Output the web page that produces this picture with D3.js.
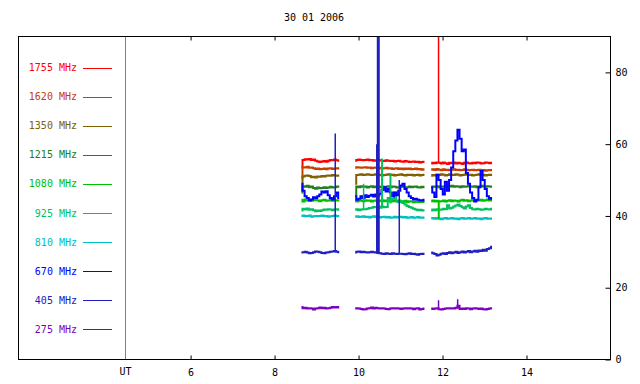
<!DOCTYPE html>
<html>
<head>
<meta charset="utf-8">
<script src="https://cdn.jsdelivr.net/npm/d3@7"></script>
<style>
    body { margin: 0; background: #fff; }
    svg text { font-family: "DejaVu Sans Mono", monospace; font-size: 10px; }
</style>
</head>
<body>
<div id="chart"></div>
<script>
// Radio flux records, 30 01 2006 - three observing blocks, sampled every 0.05 h
const title = "30 01 2006";
const blockStarts = [8.64, 9.92, 11.73]; // UT hours
const sampleStep = 0.05;
const xTicks = [6, 8, 10, 12, 14];
const yTicks = [0, 20, 40, 60, 80];

const channels = ["1755 MHz", "1620 MHz", "1350 MHz", "1215 MHz", "1080 MHz",
                  "925 MHz", "810 MHz", "670 MHz", "405 MHz", "275 MHz"];
const colors = ["#ff0000", "#c84000", "#806000", "#208020", "#00c000",
                "#00c060", "#00c0c0", "#0000ff", "#2020c0", "#8000c0"];

const f1755 = [
    [53.5, 55.6, 55.8, 55.7, 55.9, 55.6, 55.7, 55.4, 55.2, 55.0, 55.2, 55.3, 55.1, 55.4, 55.6, 55.5, 55.7, 55.5, 55.4],
    [55.4, 55.6, 55.7, 55.6, 55.5, 55.6, 55.7, 55.5, 55.6, 55.4, 55.5, 55.6, 55.5, 55.4, 55.3, 55.5, 55.4, 55.3, 55.4, 55.2, 55.3, 55.4, 55.2, 55.1, 55.3, 55.2, 55.0, 55.1, 55.2, 55.0, 55.1, 54.9, 55.0, 55.1],
    [54.6, 54.8, 54.7, 54.9, 54.8, 54.6, 54.9, 54.7, 54.5, 54.8, 54.7, 54.9, 54.6, 54.8, 54.7, 54.5, 54.8, 54.9, 54.7, 54.6, 54.8, 54.7, 54.9, 54.8, 54.6, 54.7, 54.9, 54.8, 54.7, 54.8]
];
const f1620 = [
    [50.5, 53.6, 53.5, 53.7, 53.4, 53.5, 53.3, 53.1, 53.2, 53.0, 53.1, 53.2, 53.0, 53.2, 53.3, 53.1, 53.2, 53.3, 53.2],
    [53.4, 53.6, 53.5, 53.4, 53.5, 53.6, 53.4, 53.5, 53.3, 53.4, 53.5, 53.3, 53.4, 53.2, 53.3, 53.4, 53.2, 53.3, 53.1, 53.2, 53.3, 53.1, 53.2, 53.0, 53.2, 53.1, 53.2, 53.0, 53.1, 53.2, 53.0, 53.1, 52.9, 53.0],
    [52.9, 53.0, 52.8, 53.1, 52.9, 52.7, 53.0, 52.8, 52.9, 52.7, 52.9, 53.0, 52.8, 52.9, 52.7, 52.8, 53.0, 52.9, 52.7, 52.8, 52.9, 52.7, 52.8, 52.9, 52.7, 52.8, 52.6, 52.7, 52.8, 52.7]
];
const f1350 = [
    [47.0, 51.0, 51.2, 51.3, 51.1, 50.8, 50.9, 50.7, 51.0, 50.9, 51.1, 51.0, 51.2, 51.3, 51.2, 51.4, 51.3, 51.2, 51.3],
    [49.0, 51.4, 51.5, 51.6, 51.4, 51.5, 51.6, 51.5, 51.4, 51.5, 51.6, 51.4, 51.5, 51.3, 51.4, 51.5, 51.6, 51.4, 51.5, 51.3, 51.4, 51.5, 51.6, 51.4, 51.3, 51.5, 51.4, 51.5, 51.3, 51.4, 51.5, 51.3, 51.4, 51.5],
    [51.2, 51.4, 51.3, 51.5, 51.4, 51.6, 51.5, 51.3, 51.4, 51.6, 51.5, 51.4, 51.6, 51.5, 51.3, 51.4, 51.5, 51.6, 51.4, 51.5, 51.3, 51.4, 51.5, 51.6, 51.4, 51.5, 51.3, 51.4, 51.5, 51.4]
];
const f1215 = [
    [46.5, 48.3, 48.1, 48.4, 48.0, 48.2, 47.8, 47.6, 47.9, 47.7, 47.8, 48.0, 47.8, 47.9, 48.1, 47.9, 48.0, 48.2, 48.1],
    [45.5, 48.2, 48.0, 48.3, 48.1, 48.2, 47.9, 48.1, 48.3, 48.0, 48.2, 48.1, 48.0, 48.2, 47.9, 48.1, 48.3, 48.0, 48.2, 48.1, 47.9, 48.0, 48.2, 48.1, 47.9, 48.0, 48.2, 48.0, 48.1, 48.2, 48.0, 47.9, 48.1, 48.0],
    [48.0, 48.2, 48.1, 48.3, 48.0, 48.2, 48.1, 48.3, 48.0, 48.2, 48.4, 48.1, 48.3, 48.2, 48.0, 48.3, 48.1, 48.2, 48.4, 48.2, 48.1, 48.3, 48.0, 48.2, 48.4, 48.2, 48.1, 48.3, 48.2, 48.1]
];
const f1080 = [
    [44.5, 44.0, 44.6, 44.3, 44.5, 44.2, 44.4, 44.6, 44.3, 44.1, 44.4, 44.5, 44.2, 44.3, 44.5, 44.2, 44.4, 44.3, 44.4],
    [44.3, 44.0, 44.2, 44.3, 44.1, 44.4, 44.2, 44.3, 44.0, 44.2, 44.3, 44.1, 44.2, 44.4, 44.1, 44.3, 44.2, 44.0, 44.3, 44.1, 44.2, 44.3, 44.1, 44.0, 44.2, 43.9, 44.1, 44.0, 43.8, 44.0, 43.9, 44.1, 43.9, 44.0],
    [44.1, 44.3, 44.0, 44.2, 44.0, 44.1, 44.3, 44.0, 44.2, 44.4, 44.1, 44.3, 44.2, 44.0, 44.3, 44.5, 44.2, 44.4, 44.1, 44.3, 44.5, 44.2, 44.4, 44.3, 44.5, 44.2, 44.4, 44.6, 44.3, 44.5]
];
const f925 = [
    [41.5, 42.0, 41.8, 42.1, 41.7, 41.9, 41.6, 41.3, 41.5, 41.4, 41.6, 41.8, 41.7, 41.9, 41.8, 41.6, 41.8, 41.9, 41.7],
    [41.7, 41.9, 41.6, 41.8, 41.9, 41.9, 42.0, 42.2, 42.3, 42.5, 42.4, 42.6, 42.3, 42.6, 42.4, 42.5, 45.0, 44.2, 44.8, 46.5, 44.0, 43.8, 44.0, 43.6, 43.2, 42.8, 42.5, 42.3, 42.0, 41.8, 41.6, 41.7, 41.5, 41.6],
    [41.5, 41.8, 41.6, 41.9, 41.7, 41.8, 42.0, 41.9, 43.0, 42.1, 42.3, 42.6, 42.9, 43.2, 42.8, 42.4, 42.1, 42.6, 43.0, 42.2, 41.9, 41.8, 42.0, 41.9, 41.7, 41.8, 42.0, 41.9, 41.8, 42.0]
];
const f810 = [
    [40.0, 40.1, 39.9, 40.0, 40.1, 39.8, 39.9, 40.0, 39.9, 40.0, 40.1, 39.9, 40.0, 39.8, 39.9, 40.0, 40.1, 39.9, 40.0],
    [39.8, 39.9, 39.7, 39.8, 39.9, 39.7, 39.8, 39.6, 39.8, 39.9, 39.7, 39.8, 39.6, 39.7, 39.8, 39.6, 39.7, 39.5, 39.6, 39.8, 39.6, 39.7, 39.8, 39.6, 39.7, 39.5, 39.6, 39.7, 39.5, 39.6, 39.7, 39.5, 39.6, 39.5],
    [39.3, 39.4, 39.2, 39.4, 39.3, 39.1, 39.3, 39.4, 39.2, 39.3, 39.4, 39.2, 39.3, 39.1, 39.3, 39.4, 39.2, 39.3, 39.4, 39.2, 39.3, 39.4, 39.2, 39.3, 39.1, 39.3, 39.4, 39.2, 39.3, 39.2]
];
const f670 = [
    [49.0, 47.0, 45.5, 45.0, 44.3, 44.6, 45.2, 45.0, 45.5, 46.0, 46.8, 46.5, 46.9, 45.8, 45.0, 44.6, 45.5, 46.5, 45.0],
    [45.5, 44.5, 44.8, 45.5, 45.0, 45.8, 45.3, 45.6, 45.9, 45.4, 46.0, 45.7, 46.2, 47.2, 48.0, 46.8, 47.5, 46.5, 45.5, 46.5, 45.8, 47.0, 48.5, 49.0, 47.5, 46.5, 45.5, 45.0, 44.6, 44.8, 44.5, 44.4, 44.3, 44.5],
    [48.0, 46.5, 45.3, 51.5, 50.0, 47.5, 46.0, 49.5, 47.0, 50.0, 53.5, 58.0, 61.0, 64.0, 61.5, 58.0, 58.5, 52.0, 49.0, 46.5, 45.0, 44.0, 44.5, 48.0, 52.5, 50.0, 47.5, 45.5, 44.8, 45.0]
];
const f405 = [
    [29.8, 29.9, 30.0, 29.8, 29.6, 29.7, 29.9, 30.1, 30.0, 29.9, 29.7, 29.6, 29.8, 29.9, 30.0, 30.1, 30.2, 30.0, 29.9],
    [29.8, 30.0, 30.1, 29.9, 30.0, 29.9, 29.8, 29.9, 30.0, 29.9, 29.8, 29.7, 29.6, 29.5, 29.4, 29.6, 29.5, 29.4, 29.6, 29.5, 29.4, 29.5, 29.5, 29.4, 29.3, 29.5, 29.6, 29.4, 29.5, 29.3, 29.2, 29.4, 29.5, 29.4],
    [29.8, 29.6, 29.4, 29.0, 29.2, 29.5, 29.6, 29.4, 29.7, 29.9, 29.6, 29.8, 30.0, 29.7, 29.9, 30.1, 29.8, 30.0, 30.2, 29.9, 30.1, 30.3, 30.0, 30.4, 30.2, 30.6, 30.3, 30.8, 31.0, 31.4]
];
const f275 = [
    [14.6, 14.3, 14.4, 14.2, 14.3, 14.2, 13.9, 14.2, 14.3, 14.5, 14.3, 14.4, 14.2, 14.3, 14.4, 14.6, 14.5, 14.6, 14.5],
    [14.2, 14.3, 14.2, 14.1, 13.9, 14.0, 14.2, 14.3, 14.5, 14.2, 14.4, 14.3, 14.2, 14.3, 14.2, 14.1, 14.0, 14.2, 14.3, 14.2, 14.3, 14.2, 14.1, 14.2, 14.3, 14.2, 14.3, 14.2, 14.0, 14.2, 14.3, 13.9, 14.1, 14.2],
    [14.2, 14.1, 14.2, 14.3, 14.0, 13.9, 14.1, 14.2, 14.3, 14.2, 14.3, 14.2, 14.4, 15.0, 14.1, 14.2, 14.1, 14.3, 14.2, 14.0, 14.2, 14.3, 14.2, 14.1, 14.2, 14.0, 13.9, 14.1, 14.2, 14.3]
];
const seriesValues = [f1755, f1620, f1350, f1215, f1080, f925, f810, f670, f405, f275];

// short bursts: [channel index, UT hour, base value, peak value, width px]
const spikes = [
    [8, 9.445, 30.0, 63, 1.5],
    [8, 10.44, 29.8, 60, 2],
    [8, 10.47, 29.8, 95, 3],
    [8, 10.97, 29.4, 50, 1.5],
    [5, 10.12, 41.9, 49, 1.5],
    [5, 10.56, 42.4, 56, 2],
    [5, 10.76, 43.5, 52, 2],
    [0, 11.905, 54.8, 95, 1.5],
    [4, 11.91, 44.1, 39, 2],
    [9, 11.905, 14.1, 16.5, 1.5],
    [9, 12.36, 14.2, 16.8, 1.5]
];

const width = 640, height = 384;
const frame = {left: 18.5, right: 610.5, top: 36.5, bottom: 359.5};
const utLine = 125.5;

const svg = d3.select("#chart").append("svg")
    .attr("width", width)
    .attr("height", height);

let x = d3.scaleLinear().domain([4.45, 16]).range([utLine, frame.right]);
let y = d3.scaleLinear().domain([0, 90]).range([frame.bottom, frame.top]);

svg.append("text")
    .attr("x", 314)
    .attr("y", 21)
    .attr("text-anchor", "middle")
    .text(title);

svg.append("defs").append("clipPath")
    .attr("id", "plotClip")
    .append("rect")
    .attr("x", utLine)
    .attr("y", frame.top)
    .attr("width", frame.right - utLine)
    .attr("height", frame.bottom - frame.top);

// turn block arrays into points, with a gap between blocks
function toPoints(blocks) {
    let pts = [];
    blocks.forEach(function (vals, b) {
        vals.forEach(function (v, i) {
            pts.push({h: blockStarts[b] + i * sampleStep, v: v});
        });
        pts.push(null);
    });
    return pts;
}

let line = d3.line()
    .defined(function (d) { return d !== null; })
    .x(function (d) { return x(d.h); })
    .y(function (d) { return y(d.v); })
    .curve(d3.curveStep);

let plot = svg.append("g").attr("clip-path", "url(#plotClip)");
seriesValues.forEach(function (blocks, k) {
    plot.append("path")
        .datum(toPoints(blocks))
        .attr("fill", "none")
        .attr("stroke", colors[k])
        .attr("stroke-width", 2)
        .attr("d", line);
});

plot.selectAll(".spike")
    .data(spikes)
    .enter()
    .append("line")
    .attr("class", "spike")
    .attr("x1", function (d) { return x(d[1]); })
    .attr("x2", function (d) { return x(d[1]); })
    .attr("y1", function (d) { return y(d[2]); })
    .attr("y2", function (d) { return y(d[3]); })
    .attr("stroke", function (d) { return colors[d[0]]; })
    .attr("stroke-width", function (d) { return d[4]; });

// legend on the left side of the frame
let legend = svg.append("g");
channels.forEach(function (name, k) {
    let ly = 67.5 + k * 29.1;
    legend.append("text")
        .attr("x", 77)
        .attr("y", ly + 3.5)
        .attr("text-anchor", "end")
        .attr("fill", colors[k])
        .text(name);
    legend.append("line")
        .attr("x1", 83).attr("x2", 112)
        .attr("y1", Math.round(ly) + 0.5).attr("y2", Math.round(ly) + 0.5)
        .attr("stroke", colors[k])
        .attr("stroke-width", 1);
});

// axes
let bottomAxis = svg.append("g")
    .attr("transform", "translate(0," + frame.bottom + ")")
    .call(d3.axisBottom(x).tickValues(xTicks).tickSize(-4).tickPadding(9).tickFormat(d3.format("d")));
let topAxis = svg.append("g")
    .attr("transform", "translate(0," + frame.top + ")")
    .call(d3.axisTop(x).tickValues(xTicks).tickSize(-4).tickFormat(""));
let rightAxis = svg.append("g")
    .attr("transform", "translate(" + frame.right + ",0)")
    .call(d3.axisRight(y).tickValues(yTicks).tickSize(-5).tickPadding(5));
[bottomAxis, topAxis, rightAxis].forEach(function (a) {
    a.select(".domain").remove();
    a.selectAll("text").style("font-family", "DejaVu Sans Mono, monospace").style("font-size", "10px");
});

svg.append("line")
    .attr("x1", utLine).attr("x2", utLine)
    .attr("y1", frame.top).attr("y2", frame.bottom)
    .attr("stroke", "#808080");

svg.append("text")
    .attr("x", utLine)
    .attr("y", 375)
    .attr("text-anchor", "middle")
    .text("UT");

svg.append("rect")
    .attr("x", frame.left)
    .attr("y", frame.top)
    .attr("width", frame.right - frame.left)
    .attr("height", frame.bottom - frame.top)
    .attr("fill", "none")
    .attr("stroke", "#000");
</script>
</body>
</html>
